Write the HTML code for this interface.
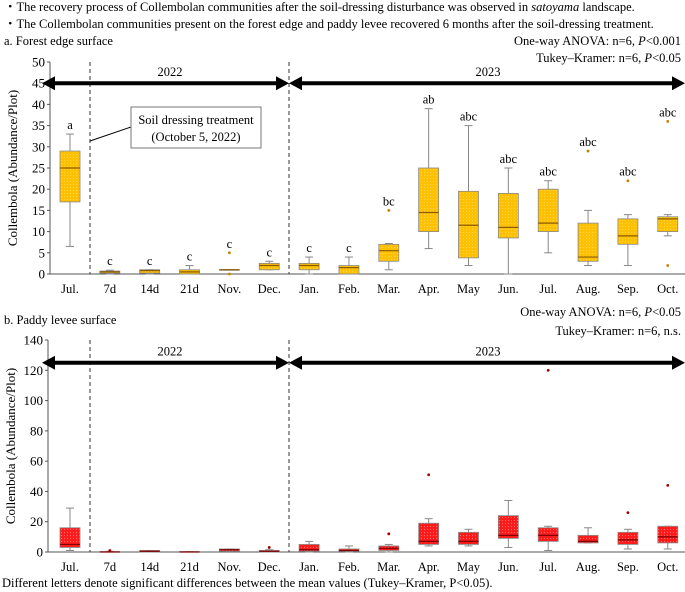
<!DOCTYPE html>
<html><head><meta charset="utf-8"><style>
body{margin:0;background:#fff;}
svg{display:block;font-family:"Liberation Serif",serif;}
</style></head><body>
<svg id="s" width="685" height="592">
<defs>
<pattern id="py" width="3" height="3" patternUnits="userSpaceOnUse"><rect width="3" height="3" fill="#ffc000"/><circle cx="1.5" cy="1.5" r="0.6" fill="#ffd84a"/></pattern>
<pattern id="pr" width="3" height="3" patternUnits="userSpaceOnUse"><rect width="3" height="3" fill="#ff1a1a"/><circle cx="1.5" cy="1.5" r="0.6" fill="#ff7070"/></pattern>
</defs>
<text x="4" y="11" font-size="12.5">・The recovery process of Collembolan communities after the soil-dressing disturbance was observed in <tspan font-style="italic">satoyama</tspan> landscape.</text>
<text x="4" y="28" font-size="12.5">・The Collembolan communities present on the forest edge and paddy levee recovered 6 months after the soil-dressing treatment.</text>
<text x="4" y="45" font-size="12.5">a. Forest edge surface</text>
<text x="681" y="45" font-size="12.5" text-anchor="end">One-way ANOVA: n=6, <tspan font-style="italic">P</tspan>&lt;0.001</text>
<text x="681" y="62" font-size="12.5" text-anchor="end">Tukey–Kramer: n=6, <tspan font-style="italic">P</tspan>&lt;0.05</text>
<text x="4" y="324" font-size="12.5">b. Paddy levee surface</text>
<text x="681" y="316" font-size="12.5" text-anchor="end">One-way ANOVA: n=6, <tspan font-style="italic">P</tspan>&lt;0.05</text>
<text x="681" y="335" font-size="12.5" text-anchor="end">Tukey–Kramer: n=6, n.s.</text>
<text x="2" y="587" font-size="12.5">Different letters denote significant differences between the mean values (Tukey–Kramer, P&lt;0.05).</text>
</svg>
<script>
const categories=["Jul.","7d","14d","21d","Nov.","Dec.","Jan.","Feb.","Mar.","Apr.","May","Jun.","Jul.","Aug.","Sep.","Oct."];
// [whiskerLow, q1, median, q3, whiskerHigh]
const forestStats=[[6.5,17,25,29,33],[0,0.2,0.5,0.7,0.9],[0,0.2,0.8,1,1],[0,0,0.5,1,2],[1,1,1,1,1],[1,1,2,2.5,3],[0,1,2,2.5,4],[0,0,1.5,2,4],[1,3,5.5,7,7.2],[6,10,14.5,25,39],[2,3.8,11.5,19.5,35],[0,8.5,11,19,25],[5,10,12,20,22],[2,3,4,12,15],[2,7,9,13,14],[9,10,13,13.5,14]];
const forestOutliers=[[],[],[],[],[5,0],[],[],[],[15],[],[],[],[],[29],[22],[36,2]];
const forestLetters=["a","c","c","c","c","c","c","c","bc","ab","abc","abc","abc","abc","abc","abc"];
const paddyStats=[[1,3,5,16,29],[0,0,0,0.3,0.5],[0,0,0.5,1,1],[0,0,0,0.3,0.3],[0.5,0.5,1.5,2,2],[0,0,0.5,1,1.5],[0,0.5,1.5,5,7],[0,0.5,1,2,4],[0,1,2.5,4,5],[4,5,7,19,22],[4,5,7,13,15],[3,9,11,24,34],[1,7,11,16,17],[6,6,7,11,16],[2,5,8,13,15],[2,6,10,17,17]];
const paddyOutliers=[[],[1],[],[],[],[3],[],[],[12],[51],[],[],[120],[],[26],[44]];
const forestTicks=[0,5,10,15,20,25,30,35,40,45,50];
const paddyTicks=[0,20,40,60,80,100,120,140];
const NS="http://www.w3.org/2000/svg";
const svg=document.getElementById('s');
function mk(tag,attrs,parent){const e=document.createElementNS(NS,tag);for(const k in attrs)e.setAttribute(k,attrs[k]);(parent||svg).appendChild(e);return e;}
function xPos(i){return 70+i*39.85;}
function panel(p){
  const g=mk('g',{});
  
  
  const y=v=>p.y0-(v-p.min)/(p.max-p.min)*(p.y0-p.y1);
  mk('line',{x1:p.ax,y1:p.y1,x2:p.ax,y2:p.y0,stroke:'#555','stroke-width':1},g);
  mk('line',{x1:p.ax,y1:p.y0,x2:685,y2:p.y0,stroke:'#555','stroke-width':1},g);
  p.ticks.forEach(t=>{
    mk('line',{x1:p.ax-3,y1:y(t),x2:p.ax,y2:y(t),stroke:'#555'},g);
    const tx=mk('text',{x:p.ax-5,y:y(t)+4.5,'font-size':13,'text-anchor':'end'},g);tx.textContent=t;
    
    
  });
  const yt=mk('text',{x:0,y:0,'font-size':13,'text-anchor':'middle',transform:`translate(${p.ax-33},${(p.y0+p.y1)/2}) rotate(-90)`},g);
  yt.textContent='Collembola (Abundance/Plot)';
  
  
  [90,289].forEach(dx=>mk('line',{x1:dx,y1:p.y1,x2:dx,y2:p.y0,stroke:'#333','stroke-dasharray':'4,3','stroke-width':1},g));
  const ay=y(p.arrowV);
  [[42,289],[289,685]].forEach(([a,b])=>{
    mk('line',{x1:a+12,y1:ay,x2:b-12,y2:ay,stroke:'#000','stroke-width':4},g);
    const ar=mk('polygon',{points:`${a},${ay} ${a+13},${ay-7} ${a+13},${ay+7}`,fill:'#000'},g);
    mk('polygon',{points:`${b},${ay} ${b-13},${ay-7} ${b-13},${ay+7}`,fill:'#000'},g);
    
    
  });
  const y1t=mk('text',{x:170,y:ay-7,'font-size':12.5,'text-anchor':'middle'},g);y1t.textContent='2022';
  
  
  const y2t=mk('text',{x:488,y:ay-7,'font-size':12.5,'text-anchor':'middle'},g);y2t.textContent='2023';
  
  
  p.stats.forEach((s,i)=>{
    const cx=xPos(i),w=10;
    const bg=mk('g',{},g);
    
    
    mk('line',{x1:cx,y1:y(s[0]),x2:cx,y2:y(s[4]),stroke:'#888'},bg);
    mk('line',{x1:cx-4,y1:y(s[4]),x2:cx+4,y2:y(s[4]),stroke:'#888'},bg);
    mk('line',{x1:cx-4,y1:y(s[0]),x2:cx+4,y2:y(s[0]),stroke:'#888'},bg);
    mk('rect',{x:cx-w,y:y(s[3]),width:2*w,height:Math.max(0.5,y(s[1])-y(s[3])),fill:p.fill,stroke:'#888','stroke-width':0.8},bg);
    mk('line',{x1:cx-w,y1:y(s[2]),x2:cx+w,y2:y(s[2]),stroke:p.med,'stroke-width':1.2},bg);
    p.out[i].forEach(o=>{const c=mk('circle',{cx:cx,cy:y(o),r:1.4,fill:p.dot},bg);
      
      });
    const lb=mk('text',{x:cx,y:p.y0+19,'font-size':12.5,'text-anchor':'middle'},g);lb.textContent=categories[i];
    
    
    if(p.letters){
      const top=Math.max(s[4],...p.out[i].filter(o=>o>s[4]));
      const lt=mk('text',{x:cx,y:y(top)-5,'font-size':12.5,'text-anchor':'middle'},g);lt.textContent=p.letters[i];
      
      
    }
  });
  return g;
}
panel({name:'panel-a-forest-edge',ax:50,y0:274,y1:62,min:0,max:50,ticks:forestTicks,stats:forestStats,out:forestOutliers,letters:forestLetters,fill:'url(#py)',med:'#8a5a00',dot:'#c08000',arrowV:45});
panel({name:'panel-b-paddy-levee',ax:48,y0:552,y1:340,min:0,max:140,ticks:paddyTicks,stats:paddyStats,out:paddyOutliers,letters:null,fill:'url(#pr)',med:'#800000',dot:'#a00000',arrowV:125});
// annotation
const an=mk('g',{});


mk('line',{x1:90,y1:141,x2:131,y2:127,stroke:'#000'},an);
mk('rect',{x:131,y:107,width:130,height:41,fill:'#fff',stroke:'#777'},an);
const t1=mk('text',{x:196,y:124,'font-size':12.5,'text-anchor':'middle'},an);t1.textContent='Soil dressing treatment';
const t2=mk('text',{x:196,y:141,'font-size':12.5,'text-anchor':'middle'},an);t2.textContent='(October 5, 2022)';
</script>
</body></html>
